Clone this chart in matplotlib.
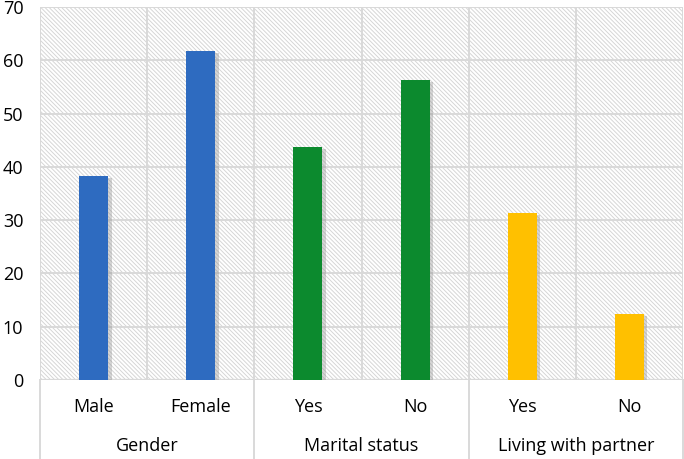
import matplotlib.pyplot as plt
import matplotlib.patheffects as pe
from matplotlib.patches import Rectangle

# Data
groups = ["Gender", "Marital status", "Living with partner"]
categories = ["Male", "Female", "Yes", "No", "Yes", "No"]
values = [38.3, 61.7, 43.7, 56.3, 31.3, 12.4]
group_size = [2, 2, 2]
group_colors = ["#2E6BC0", "#0C8A2E", "#FFC000"]

plt.rcParams['font.family'] = ['Open Sans', 'DejaVu Sans']
plt.rcParams['hatch.color'] = '#d6d6d6'
plt.rcParams['hatch.linewidth'] = 0.7

W, H = 684, 459
fig = plt.figure(figsize=(W / 100, H / 100), dpi=100)
x0, x1, y0, y1 = 40, 683, 380, 7
ax = fig.add_axes([x0 / W, 1 - y0 / H, (x1 - x0) / W, (y0 - y1) / H])

n = len(categories)
ax.set_xlim(0, n)
ax.set_ylim(0, 70)

# hatched plot background
ax.add_patch(Rectangle((0, 0), 1, 1, transform=ax.transAxes, facecolor='white',
                       edgecolor='#d6d6d6', hatch='\\' * 8, linewidth=0, zorder=0))

# grid
for y in range(10, 80, 10):
    ax.axhline(y, color='#d9d9d9', lw=1.4, zorder=1)
for i in range(n + 1):
    ax.axvline(i, color='#d9d9d9', lw=1.4, zorder=1)
ax.axhline(0, color='#d9d9d9', lw=1.6, zorder=1)

colors = []
for c, s in zip(group_colors, group_size):
    colors += [c] * s
xs = [i + 0.5 for i in range(n)]
bars = ax.bar(xs, values, width=0.27, color=colors, zorder=3)
for b in bars:
    b.set_path_effects([pe.SimplePatchShadow(offset=(2.5, -1.5), shadow_rgbFace='#888888', alpha=0.35),
                        pe.Normal()])

for s in ax.spines.values():
    s.set_visible(False)
ax.set_xticks([])
ax.set_yticks(range(0, 80, 10))
ax.tick_params(axis='y', length=0, pad=12, labelsize=13)

# category labels and group labels below axis
for x, lab in zip(xs, categories):
    ax.text(x, -5.0, lab, ha='center', va='center', fontsize=13, clip_on=False)
start = 0
bounds = [0]
for g, s in zip(groups, group_size):
    ax.text(start + s / 2, -12.3, g, ha='center', va='center', fontsize=13, clip_on=False)
    start += s
    bounds.append(start)
for b in bounds:
    ax.plot([b, b], [0, -16], color='#d9d9d9', lw=1.4, clip_on=False)

fig.savefig('out.png', dpi=100)
